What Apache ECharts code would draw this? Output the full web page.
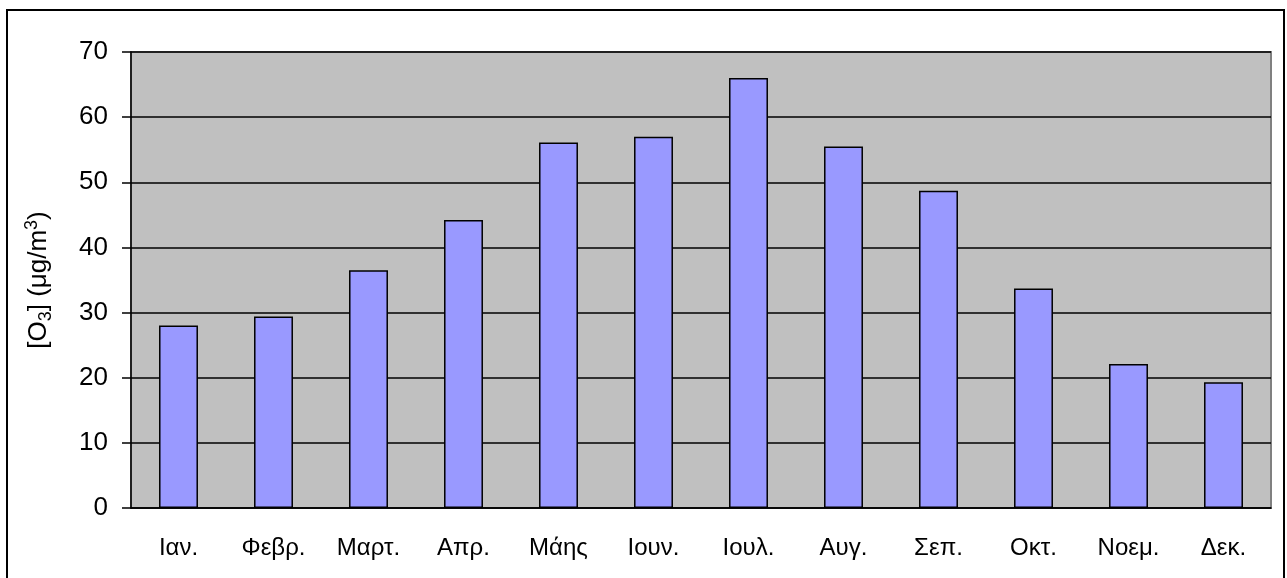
<!DOCTYPE html>
<html>
<head>
<meta charset="utf-8">
<script src="https://cdn.jsdelivr.net/npm/echarts@6/dist/echarts.min.js"></script>
<style>
  html, body { margin: 0; padding: 0; background: #fff; }
  #chart { width: 1287px; height: 578px; }
</style>
</head>
<body>
<div id="chart"></div>
<script>
const months = ['Ιαν.', 'Φεβρ.', 'Μαρτ.', 'Απρ.', 'Μάης', 'Ιουν.', 'Ιουλ.', 'Αυγ.', 'Σεπ.', 'Οκτ.', 'Νοεμ.', 'Δεκ.']
const ozone = [28.0, 29.4, 36.5, 44.2, 56.1, 57.0, 66.0, 55.5, 48.7, 33.7, 22.1, 19.3]

const font = 'Arial, "Liberation Sans", sans-serif'

const chart = echarts.init(document.getElementById('chart'), null, {
  renderer: 'canvas',
  width: 1287,
  height: 578,
})

const option = {
  animation: false,
  textStyle: { fontFamily: font },
  graphic: [
    {
      type: 'rect',
      shape: { x: 7, y: 10, width: 1277, height: 580 },
      style: { fill: 'none', stroke: '#000', lineWidth: 2 },
      z: 0,
    },
  ],
  grid: {
    left: 131,
    right: 16,
    top: 52,
    bottom: 70,
    show: true,
    backgroundColor: '#C0C0C0',
    borderColor: '#808080',
    borderWidth: 2,
  },
  xAxis: {
    type: 'category',
    data: months,
    z: 5,
    axisLine: { lineStyle: { color: '#000', width: 1.5 } },
    axisTick: { length: 9, lineStyle: { color: '#000', width: 1.5 } },
    axisLabel: { color: '#000', fontSize: 24, margin: 28, fontFamily: font },
  },
  yAxis: {
    type: 'value',
    min: 0,
    max: 70,
    interval: 10,
    name: '[O{sub|3}] (μg/m{sup|3})',
    nameLocation: 'middle',
    nameGap: 76,
    nameRotate: 90,
    nameTextStyle: {
      color: '#000',
      fontSize: 26,
      fontFamily: font,
      rich: {
        sub: { fontSize: 18, verticalAlign: 'bottom', padding: [3, 0, 0, 0], color: '#000', fontFamily: font },
        sup: { fontSize: 18, verticalAlign: 'top', padding: [0, 0, 14, 0], color: '#000', fontFamily: font },
      },
    },
    axisLine: { show: true, lineStyle: { color: '#000', width: 1.5 } },
    axisTick: { show: true, length: 9, lineStyle: { color: '#000', width: 1.5 } },
    axisLabel: { color: '#000', fontSize: 26, margin: 23, fontFamily: font },
    splitLine: { lineStyle: { color: '#000', width: 1.5 } },
  },
  series: [
    {
      type: 'bar',
      data: ozone,
      barCategoryGap: '59%',
      itemStyle: { color: '#9999FF', borderColor: '#000', borderWidth: 1.5 },
    },
  ],
}
chart.setOption(option)
</script>
</body>
</html>
